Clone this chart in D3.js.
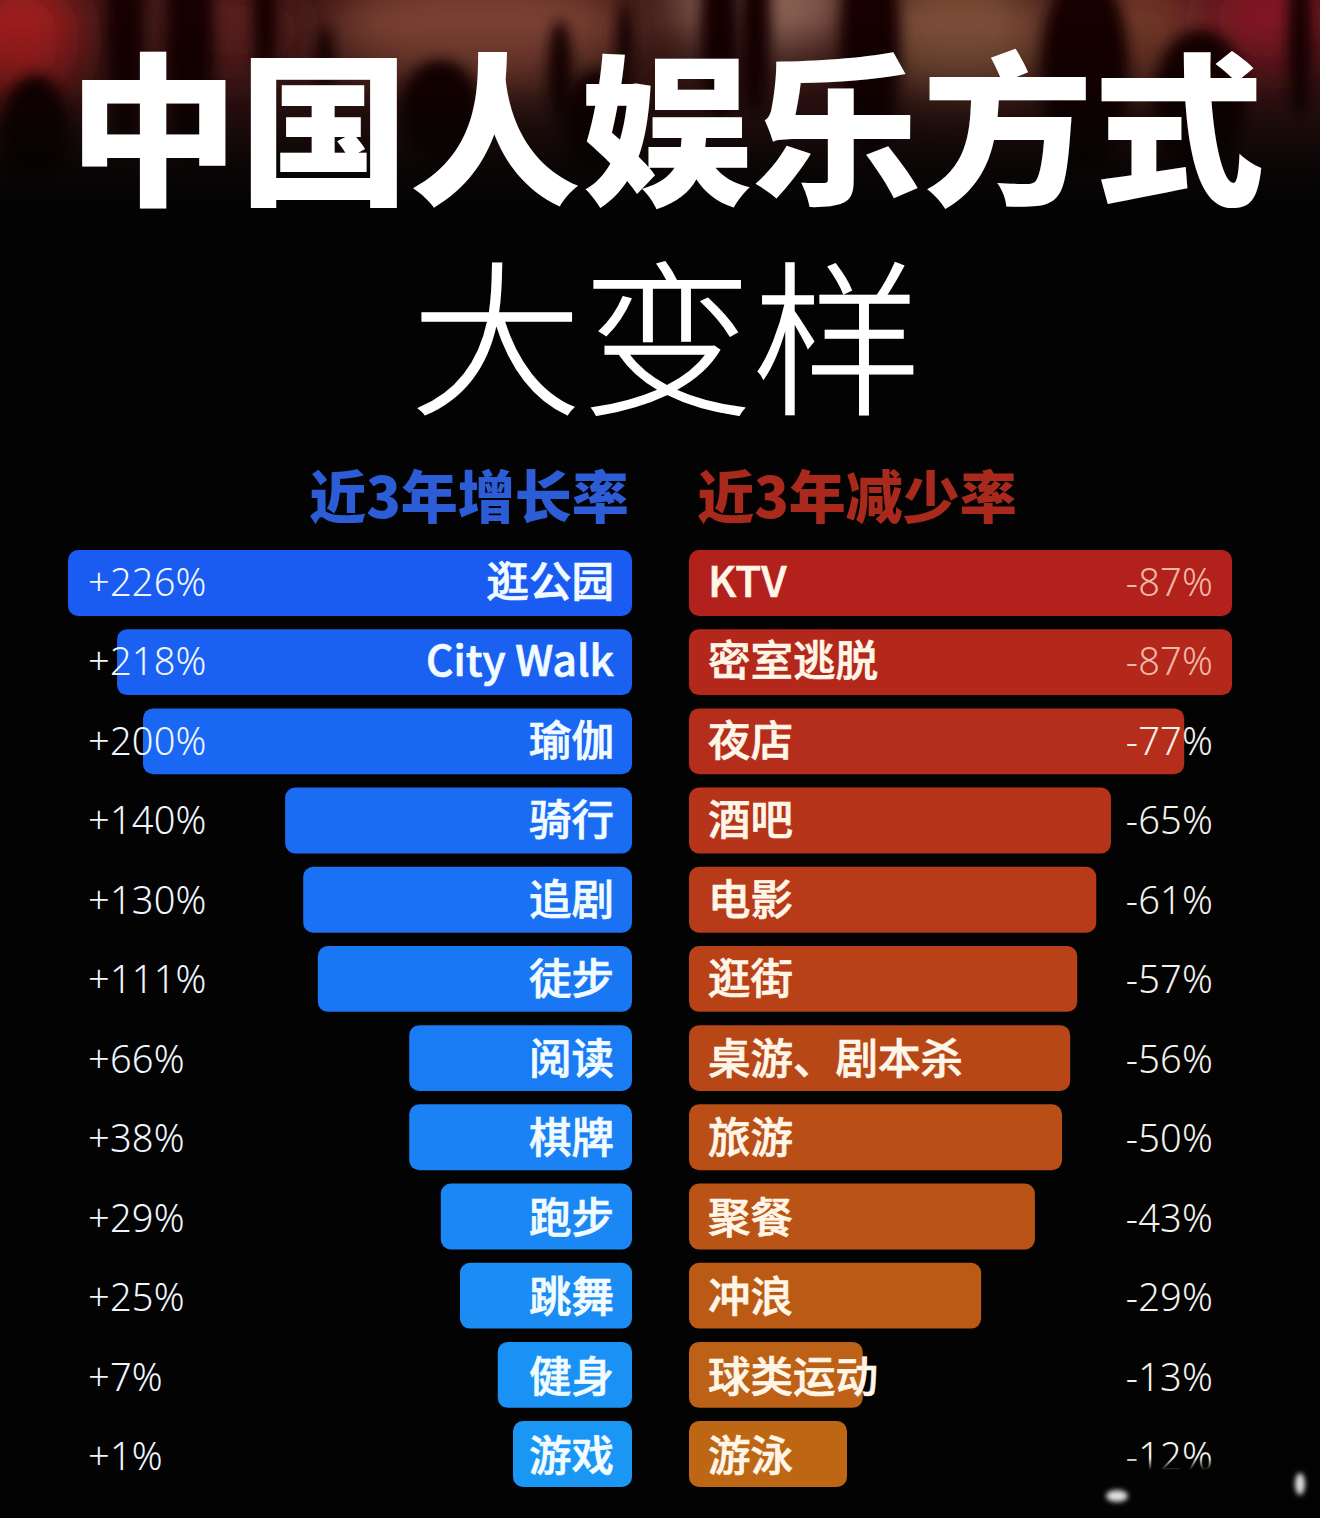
<!DOCTYPE html>
<html><head><meta charset="utf-8">
<script src="https://cdn.jsdelivr.net/npm/d3@7"></script>
<style>html,body{margin:0;padding:0;background:#000}svg{display:block}</style>
</head><body><svg id="c" width="1320" height="1518"></svg>
<script>
const titleMain = "中国人娱乐方式";
const titleSub = "大变样";
const headGrowth = "近3年增长率";
const headDecline = "近3年减少率";
const growthNames = ["逛公园","City Walk","瑜伽","骑行","追剧","徒步","阅读","棋牌","跑步","跳舞","健身","游戏"];
const growthLabels = ["+226%","+218%","+200%","+140%","+130%","+111%","+66%","+38%","+29%","+25%","+7%","+1%"];
const growthBars = [100,91.3,86.7,61.5,58.3,55.7,39.5,39.5,33.9,30.5,23.8,21.1];
const declineNames = ["KTV","密室逃脱","夜店","酒吧","电影","逛街","桌游、剧本杀","旅游","聚餐","冲浪","球类运动","游泳"];
const declineLabels = ["-87%","-87%","-77%","-65%","-61%","-57%","-56%","-50%","-43%","-29%","-13%","-12%"];
const declineBars = [100,100,91.2,77.7,75,71.5,70.2,68.7,63.7,53.8,32,29.1];

const svg = d3.select("#c");
const CJK = "'Noto Sans CJK SC','Noto Sans',sans-serif";
const defs = svg.append("defs");
function blur(id,s){defs.append("filter").attr("id",id).attr("x","-60%").attr("y","-60%").attr("width","220%").attr("height","220%")
  .append("feGaussianBlur").attr("stdDeviation",s);}
blur("b1",24);blur("b2",7);blur("b3",2.5);
const fade = defs.append("linearGradient").attr("id","fade").attr("x1",0).attr("y1",0).attr("x2",0).attr("y2",1);
[[0,0],[.2,0],[.36,1],[1,1]].forEach(s=>fade.append("stop").attr("offset",s[0]).attr("stop-color","#030303").attr("stop-opacity",s[1]));
const glow = defs.append("linearGradient").attr("id","glow").attr("x1",0).attr("y1",0).attr("x2",0).attr("y2",1);
[[0,0],[.3,.25],[.65,.85],[.85,1],[1,1]].forEach(s=>glow.append("stop").attr("offset",s[0]).attr("stop-color","#030303").attr("stop-opacity",s[1]));

svg.append("rect").attr("width",1320).attr("height",1518).attr("fill","#030303");

// concert-crowd backdrop at the top
const bg = svg.append("g");
bg.append("rect").attr("width",1320).attr("height",200).attr("fill","#3a1614");
const glowSpots = [[20,40,60,70,"#a01f1a"],[230,30,70,50,"#5a1e1a"],[480,30,150,60,"#7a4030"],[760,5,90,50,"#8a6052"],[960,35,90,60,"#7d5038"],[1130,30,80,60,"#6e3426"],[1270,20,70,55,"#801820"]];
bg.selectAll("ellipse.g").data(glowSpots).join("ellipse")
  .attr("cx",d=>d[0]).attr("cy",d=>d[1]).attr("rx",d=>d[2]).attr("ry",d=>d[3]).attr("fill",d=>d[4]).attr("filter","url(#b1)");
const crowd = [[35,130,34,55],[125,35,18,110],[190,45,24,110],[265,15,12,70],[325,60,8,35],[440,110,40,50],[560,70,12,50],[625,45,8,45],[600,120,38,50],[720,30,20,90],[755,25,16,90],[870,45,30,110],[1085,70,44,100],[1200,100,46,70],[1300,40,12,80]];
bg.selectAll("ellipse.c").data(crowd).join("ellipse")
  .attr("cx",d=>d[0]).attr("cy",d=>d[1]).attr("rx",d=>d[2]).attr("ry",d=>d[3]).attr("fill","#120606").attr("filter","url(#b2)");
bg.append("rect").attr("y",20).attr("width",1320).attr("height",220).attr("fill","url(#glow)");

// titles
svg.append("text").attr("x",666).attr("y",192).attr("text-anchor","middle")
  .attr("font-family",CJK).attr("font-weight",900).attr("font-size",164).attr("textLength",1196).attr("lengthAdjust","spacingAndGlyphs")
  .attr("fill","#fff").text(titleMain);
svg.append("text").attr("x",667).attr("y",402).attr("text-anchor","middle")
  .attr("font-family",CJK).attr("font-weight",300).attr("font-size",166).attr("textLength",512).attr("lengthAdjust","spacingAndGlyphs")
  .attr("stroke","#fff").attr("stroke-width",1.5).attr("fill","#fff").text(titleSub);
svg.append("text").attr("x",469).attr("y",518).attr("text-anchor","middle")
  .attr("font-family",CJK).attr("font-weight",900).attr("font-size",57)
  .attr("fill","#2c5dd6").text(headGrowth);
svg.append("text").attr("x",857).attr("y",518).attr("text-anchor","middle")
  .attr("font-family",CJK).attr("font-weight",900).attr("font-size",57)
  .attr("fill","#a92a1c").text(headDecline);

// scales
const y = d3.scaleBand().domain(d3.range(12)).range([550,1487]).paddingInner(.168);
const yText = d3.scalePoint().domain(d3.range(12)).range([583,1457]);
const wL = d3.scaleLinear().domain([0,100]).range([0,564]);
const wR = d3.scaleLinear().domain([0,100]).range([0,543]);
const colL = d3.scaleLinear().domain([0,11]).range(["#1a5cf2","#1a97f5"]);
const colR = d3.scaleLinear().domain([0,11]).range(["#b3211c","#bd6714"]);
const growth = growthBars.map((v,i)=>({v,i,name:growthNames[i],label:growthLabels[i]}));
const decline = declineBars.map((v,i)=>({v,i,name:declineNames[i],label:declineLabels[i]}));

const NAME = {"font-family":CJK,"font-weight":500,"font-size":42.5,"stroke-width":.7};
function apply(sel,o){Object.entries(o).forEach(([k,v])=>sel.attr(k,v));return sel;}

svg.append("g").selectAll("rect").data(growth).join("rect")
  .attr("x",d=>632-wL(d.v)).attr("y",d=>y(d.i)).attr("width",d=>wL(d.v)).attr("height",y.bandwidth())
  .attr("rx",10).attr("fill",d=>colL(d.i));
svg.append("g").selectAll("rect").data(decline).join("rect")
  .attr("x",689).attr("y",d=>y(d.i)).attr("width",d=>wR(d.v)).attr("height",y.bandwidth())
  .attr("rx",10).attr("fill",d=>colR(d.i));

apply(svg.append("g").selectAll("text").data(growth).join("text")
  .attr("x",614).attr("y",d=>yText(d.i)+14).attr("text-anchor","end")
  .attr("fill","#f2fbff").attr("stroke","#f2fbff").text(d=>d.name),NAME);
apply(svg.append("g").selectAll("text").data(decline).join("text")
  .attr("x",708).attr("y",d=>yText(d.i)+14)
  .attr("fill","#fff6e8").attr("stroke","#fff6e8").text(d=>d.name),NAME);

const VAL = {"font-family":"'Noto Sans',sans-serif","font-weight":300,"font-size":38,"letter-spacing":.2};
apply(svg.append("g").selectAll("text").data(growth).join("text")
  .attr("x",88).attr("y",d=>yText(d.i)+13)
  .attr("fill","#f0f6ff").text(d=>d.label),VAL);
apply(svg.append("g").selectAll("text").data(decline).join("text")
  .attr("x",1213).attr("y",d=>yText(d.i)+13).attr("text-anchor","end")
  .attr("fill",d=>d.i<2?"#f0b8a8":"#f4f0ea").text(d=>d.label),VAL);

// watermark smear at the bottom right
svg.append("rect").attr("x",1100).attr("y",1443).attr("width",220).attr("height",75).attr("fill","url(#fade)");
svg.append("ellipse").attr("cx",1117).attr("cy",1496).attr("rx",11).attr("ry",6).attr("fill","#ddd").attr("filter","url(#b3)");
svg.append("ellipse").attr("cx",1300).attr("cy",1484).attr("rx",5).attr("ry",11).attr("fill","#ddd").attr("filter","url(#b3)");
</script></body></html>
